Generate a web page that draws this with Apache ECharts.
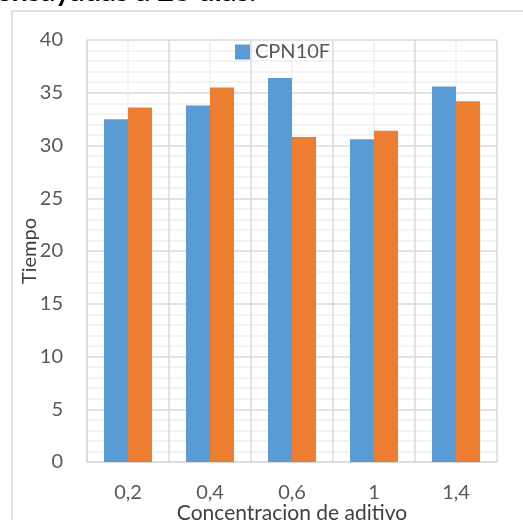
<!DOCTYPE html>
<html><head><meta charset="utf-8">
<script src="https://cdn.jsdelivr.net/npm/echarts@6/dist/echarts.min.js"></script>
<style>html,body{margin:0;padding:0;background:#fff}#c{width:523px;height:520px}</style>
</head><body><div id="c"></div>
<script>
const categories = ['0,2', '0,4', '0,6', '1', '1,4'];
const seriesBlueName = 'CPN10F';
const seriesBlue = [32.5, 33.8, 36.4, 30.6, 35.6];
const seriesOrangeName = 'Serie 2';
const seriesOrange = [33.6, 35.5, 30.8, 31.4, 34.2];
const yTicks = { min: 0, max: 40, interval: 5 };
const titleText = 'ensayadas a 28 días.';
const xTitle = 'Concentracion de aditivo';
const yTitle = 'Tiempo';

const FONT = 'Lato, "Open Sans", sans-serif';
const chart = echarts.init(document.getElementById('c'), null, {renderer: 'canvas'});
chart.setOption({
  animation: false,
  backgroundColor: '#fff',
  graphic: [
    { type: 'rect', shape: { x: 12, y: 11, width: 520, height: 530 }, style: { fill: 'none', stroke: '#d6d6d6', lineWidth: 1.5 }, z: -10 },
    { type: 'text', x: -4, y: 6.5, style: { text: titleText, font: 'bold 29px ' + FONT, fill: '#000', textVerticalAlign: 'bottom' } }
  ],
  legend: {
    data: [seriesBlueName],
    top: 37, left: 230,
    itemWidth: 15, itemHeight: 15,
    icon: 'rect',
    textStyle: { fontFamily: FONT, fontSize: 20, color: '#595959' },
    itemGap: 5
  },
  grid: { left: 87, right: 26, top: 40, bottom: 58, containLabel: false, outerBoundsMode: 'none' },
  xAxis: [
    {
      type: 'category', data: categories,
      name: xTitle, nameLocation: 'middle', nameGap: 41, nameMoveOverlap: false,
      nameTextStyle: { fontFamily: FONT, fontSize: 21, color: '#404040' },
      axisLine: { show: true, lineStyle: { color: '#d9d9d9', width: 1.5 } },
      axisTick: { show: false },
      axisLabel: { fontFamily: FONT, fontSize: 20, color: '#595959', margin: 21 },
      splitLine: { show: false }
    },
    {
      type: 'value', min: 0, max: 10, interval: 1, position: 'bottom',
      axisLine: { show: false }, axisTick: { show: false }, axisLabel: { show: false },
      splitLine: { show: true, lineStyle: { color: ['#d9d9d9', '#efefef'], width: 1.5 } }
    }
  ],
  yAxis: {
    type: 'value', min: yTicks.min, max: yTicks.max, interval: yTicks.interval,
    name: yTitle, nameLocation: 'middle', nameGap: 47, nameRotate: 90, nameMoveOverlap: false,
    nameTextStyle: { fontFamily: FONT, fontSize: 20, color: '#404040' },
    axisLine: { show: true, lineStyle: { color: '#d9d9d9', width: 1.5 } },
    axisTick: { show: false },
    axisLabel: { fontFamily: FONT, fontSize: 20, color: '#595959', margin: 24 },
    splitLine: { show: true, lineStyle: { color: '#d9d9d9', width: 1.5 } },
    minorTick: { show: false, splitNumber: 5 },
    minorSplitLine: { show: true, lineStyle: { color: '#efefef', width: 1.5 } }
  },
  series: [
    { name: seriesBlueName, type: 'bar', data: seriesBlue, barWidth: 24, barGap: '0%', itemStyle: { color: '#5b9bd5' }, xAxisIndex: 0 },
    { name: seriesOrangeName, type: 'bar', data: seriesOrange, barWidth: 24, barGap: '0%', itemStyle: { color: '#ed7d31' }, xAxisIndex: 0 }
  ]
});
</script></body></html>
